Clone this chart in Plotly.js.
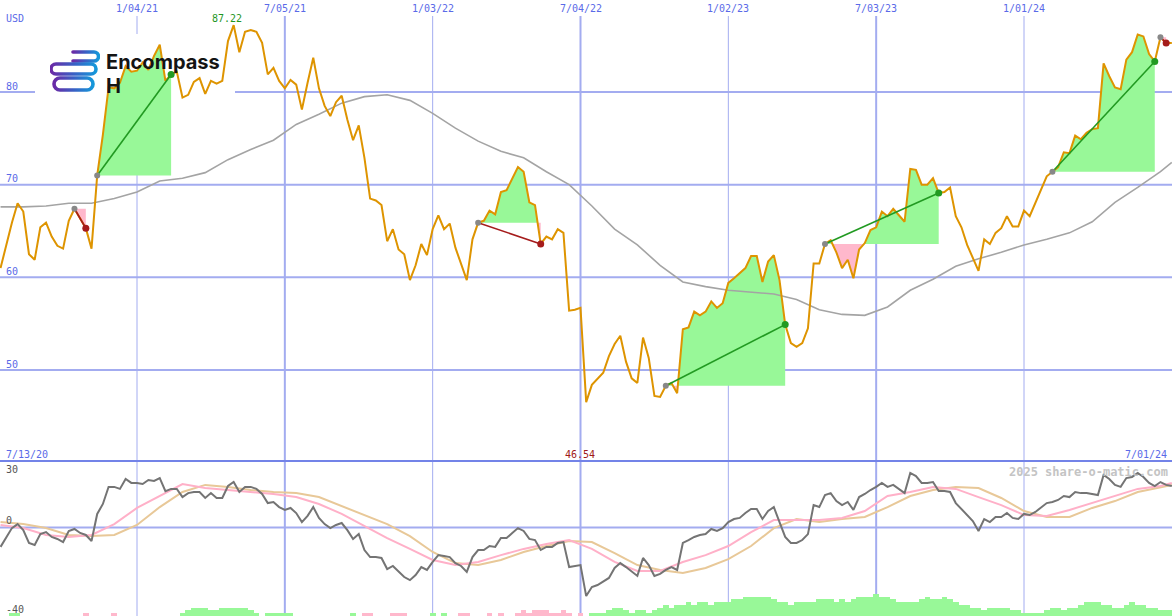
<!DOCTYPE html>
<html><head><meta charset="utf-8">
<script src="https://cdn.plot.ly/plotly-3.0.1.min.js"></script>
<style>html,body{margin:0;padding:0;background:#fff}#chart{width:1172px;height:616px}</style>
</head><body><div id="chart"></div>
<script>
// Weekly dates (Mondays)
const dates = [
'2020-07-20','2020-07-27','2020-08-03','2020-08-10','2020-08-17','2020-08-24','2020-08-31','2020-09-07','2020-09-14','2020-09-21','2020-09-28','2020-10-05','2020-10-12','2020-10-19','2020-10-26','2020-11-02','2020-11-09','2020-11-16','2020-11-23','2020-11-30','2020-12-07','2020-12-14','2020-12-21','2020-12-28',
'2021-01-04','2021-01-11','2021-01-18','2021-01-25','2021-02-01','2021-02-08','2021-02-15','2021-02-22','2021-03-01','2021-03-08','2021-03-15','2021-03-22','2021-03-29','2021-04-05','2021-04-12','2021-04-19','2021-04-26','2021-05-03','2021-05-10','2021-05-17','2021-05-24','2021-05-31','2021-06-07','2021-06-14','2021-06-21','2021-06-28','2021-07-05','2021-07-12','2021-07-19','2021-07-26','2021-08-02','2021-08-09','2021-08-16','2021-08-23','2021-08-30','2021-09-06','2021-09-13','2021-09-20','2021-09-27','2021-10-04','2021-10-11','2021-10-18','2021-10-25','2021-11-01','2021-11-08','2021-11-15','2021-11-22','2021-11-29','2021-12-06','2021-12-13','2021-12-20','2021-12-27',
'2022-01-03','2022-01-10','2022-01-17','2022-01-24','2022-01-31','2022-02-07','2022-02-14','2022-02-21','2022-02-28','2022-03-07','2022-03-14','2022-03-21','2022-03-28','2022-04-04','2022-04-11','2022-04-18','2022-04-25','2022-05-02','2022-05-09','2022-05-16','2022-05-23','2022-05-30','2022-06-06','2022-06-13','2022-06-20','2022-06-27','2022-07-04','2022-07-11','2022-07-18','2022-07-25','2022-08-01','2022-08-08','2022-08-15','2022-08-22','2022-08-29','2022-09-05','2022-09-12','2022-09-19','2022-09-26','2022-10-03','2022-10-10','2022-10-17','2022-10-24','2022-10-31','2022-11-07','2022-11-14','2022-11-21','2022-11-28','2022-12-05','2022-12-12','2022-12-19','2022-12-26',
'2023-01-02','2023-01-09','2023-01-16','2023-01-23','2023-01-30','2023-02-06','2023-02-13','2023-02-20','2023-02-27','2023-03-06','2023-03-13','2023-03-20','2023-03-27','2023-04-03','2023-04-10','2023-04-17','2023-04-24','2023-05-01','2023-05-08','2023-05-15','2023-05-22','2023-05-29','2023-06-05','2023-06-12','2023-06-19','2023-06-26','2023-07-03','2023-07-10','2023-07-17','2023-07-24','2023-07-31','2023-08-07','2023-08-14','2023-08-21','2023-08-28','2023-09-04','2023-09-11','2023-09-18','2023-09-25','2023-10-02','2023-10-09','2023-10-16','2023-10-23','2023-10-30','2023-11-06','2023-11-13','2023-11-20','2023-11-27','2023-12-04','2023-12-11','2023-12-18','2023-12-25',
'2024-01-01','2024-01-08','2024-01-15','2024-01-22','2024-01-29','2024-02-05','2024-02-12','2024-02-19','2024-02-26','2024-03-04','2024-03-11','2024-03-18','2024-03-25','2024-04-01','2024-04-08','2024-04-15','2024-04-22','2024-04-29','2024-05-06','2024-05-13','2024-05-20','2024-05-27','2024-06-03','2024-06-10','2024-06-17','2024-06-24','2024-07-01'
];

// Weekly close price (USD)
const price = [
61.0,63.5,65.9,68.0,67.1,62.5,61.9,65.4,65.9,64.4,
63.4,63.1,66.1,67.4,66.3,65.3,63.1,71.0,75.4,80.5,
80.4,81.0,82.8,82.2,82.3,83.2,82.4,83.9,85.1,81.2,
81.9,82.2,79.4,79.7,81.1,81.5,79.8,81.2,80.9,81.2,
85.5,87.22,84.3,86.5,86.7,86.5,85.3,81.9,82.6,81.2,
80.4,81.3,80.8,78.1,81.0,83.7,80.4,78.5,77.4,78.9,
79.6,77.0,74.8,76.4,72.9,68.5,68.3,67.8,63.9,65.2,
63.0,62.5,59.7,61.3,63.6,62.4,65.2,66.7,65.2,65.8,
63.2,61.4,59.7,64.1,65.9,66.1,67.2,66.8,69.2,69.4,
70.7,71.9,71.4,68.1,67.8,63.6,64.4,64.1,65.2,64.8,
56.4,56.5,56.7,46.54,48.4,49.0,49.7,51.5,52.8,53.7,
50.9,49.1,48.6,53.5,51.3,47.2,47.1,48.3,48.6,47.5,
54.4,54.6,56.3,55.9,56.3,57.4,56.7,57.2,59.4,59.9,
60.5,61.0,62.3,62.3,59.5,61.7,62.4,59.7,54.9,52.9,
52.5,52.9,54.5,61.5,61.5,63.6,64.0,62.7,61.0,61.9,
59.9,63.0,63.7,65.1,65.4,67.1,66.6,67.4,66.7,66.0,
71.7,71.6,70.0,70.0,70.7,69.1,69.2,69.7,66.6,65.4,
63.5,62.1,60.7,64.1,63.6,64.8,65.3,66.6,65.5,65.5,
67.2,66.6,68.0,69.4,70.9,71.4,71.9,73.5,73.4,75.3,
74.9,75.6,76.0,76.1,83.1,81.7,80.5,80.3,83.5,84.3,
86.2,86.0,84.1,83.3,85.9,85.3,85.3
];

// Oscillator (weekly)
const osc = [
-8.8,-4.3,-0.3,1.5,-1.2,-7.0,-7.9,-3.0,-2.1,-4.3,
-5.2,-6.6,-1.6,-0.7,-2.5,-3.4,-6.1,6.1,10.6,18.3,
18.3,17.4,21.9,20.1,20.1,19.6,21.4,21.0,22.3,16.4,
17.4,17.4,13.7,15.5,16.0,16.0,13.3,15.5,13.3,13.3,
18.7,20.5,16.0,18.3,18.3,17.4,15.1,11.0,11.5,9.2,
7.9,8.8,6.5,2.4,5.2,9.2,4.3,1.5,-0.3,1.1,
2.0,-1.2,-5.2,-3.0,-10.2,-13.4,-13.4,-13.8,-18.8,-17.4,
-20.1,-22.4,-23.8,-21.5,-17.9,-19.2,-15.6,-12.5,-12.9,-13.4,
-16.1,-17.4,-20.1,-13.4,-10.2,-10.2,-8.4,-8.8,-4.8,-4.8,
-2.5,-0.3,-1.6,-5.2,-5.7,-10.2,-8.8,-8.8,-7.0,-6.6,
-17.9,-17.4,-17.0,-31.0,-26.9,-26.0,-24.2,-22.8,-18.3,-16.1,
-17.9,-20.1,-21.9,-13.8,-17.0,-21.9,-21.0,-19.2,-17.9,-19.2,
-7.0,-5.7,-4.3,-3.4,-3.0,-0.7,-1.6,-0.3,2.4,3.8,
4.3,6.5,8.3,8.3,3.8,7.4,9.2,2.4,-4.3,-7.0,
-7.0,-5.7,-3.0,10.1,9.2,14.6,15.5,11.9,10.1,11.5,
7.9,13.7,15.1,16.9,18.3,20.1,18.3,19.2,17.4,15.5,
24.6,23.2,20.1,20.1,20.5,16.4,16.4,16.0,11.0,8.3,
5.6,2.9,-1.6,3.8,2.4,4.7,4.7,6.5,4.3,3.8,
6.1,5.6,7.0,8.8,11.0,11.5,12.4,14.2,13.7,16.0,
15.5,15.5,15.1,14.6,23.7,21.9,19.2,18.3,22.3,22.8,
24.6,22.8,20.1,18.7,20.5,19.2,18.7
];

// Volume-style histogram (signed strength: + green, - pink)
const hist = [
0,0,1,1,0,0,0,0,0,0,
0,0,0,0,0,-1,0,0,0,0,
-1,0,0,0,0,0,0,0,0,0,
0,0,1,2,3,3,3,2,2,3,
3,3,3,3,2,1,0,1,1,1,
1,1,0,0,0,0,0,0,0,0,
0,0,1,0,-1,-1,0,0,0,-1,
-1,-1,0,0,0,0,1,0,1,0,
0,-1,-1,0,0,0,-1,0,-1,0,
0,-1,-2,-1,-2,-2,-2,-1,-1,-2,
-1,0,-1,0,1,1,1,2,3,3,
2,1,2,2,1,2,3,4,3,4,
4,5,4,5,5,4,5,5,5,6,
6,7,7,7,7,7,6,5,5,4,
5,5,5,5,6,6,6,5,6,5,
6,7,7,7,8,7,7,6,5,5,
5,5,6,7,6,6,7,6,5,4,
4,3,3,2,3,3,3,3,2,2,
1,1,1,1,2,3,3,2,3,3,
4,5,5,5,4,4,3,3,4,5,
4,4,3,3,2,2,2
];

// Smooth series sampled every 4 weeks (plus final week)
const movingAvg = [67.6,67.6,67.7,68.0,68.0,68.5,69.2,70.4,70.7,71.3,72.7,73.8,74.8,76.5,77.6,78.8,79.5,79.7,79.1,77.7,76.1,74.7,73.6,72.9,71.4,70.0,67.7,65.2,63.5,61.3,59.5,59.0,58.6,58.4,58.2,57.6,56.5,56.0,55.9,56.8,58.6,59.8,61.2,62.0,62.7,63.5,64.1,64.8,66.0,68.1,69.7,71.4,72.4];
const signalFast = [1.1,-0.3,-3.4,-4.3,-3.4,1.5,8.8,14.2,19.6,17.8,16.9,16.0,15.1,13.7,10.6,6.1,0.6,-4.8,-9.7,-14.7,-17.0,-15.6,-12.5,-9.7,-7.5,-5.7,-9.7,-15.6,-19.7,-19.7,-15.6,-12.5,-8.4,-2.1,3.3,3.3,3.3,4.3,7.4,14.2,16.0,18.3,17.4,13.7,10.1,5.6,5.2,7.9,11.0,14.2,17.4,18.7,20.1];
const signalSlow = [2.4,1.5,-0.3,-3.4,-3.9,-3.4,1.1,9.2,16.0,19.2,18.3,16.9,16.0,15.5,13.7,9.7,5.6,1.5,-3.9,-11.1,-16.1,-17.0,-14.7,-11.1,-8.4,-6.1,-6.6,-11.6,-17.0,-19.2,-20.6,-18.3,-14.3,-8.4,-0.3,3.8,2.4,3.8,4.7,9.2,14.2,16.9,18.3,17.8,13.3,7.4,4.7,4.7,8.8,11.9,16.0,18.3,19.2];

// Trades: entry / exit week indices
const entryIdx = [13,17,84,117,145,185,204];
const exitIdx  = [15,30,95,138,165,203,205];

// Axis tick labels
const tickDates  = ['2021-01-04','2021-07-05','2022-01-03','2022-07-04','2023-01-02','2023-07-03','2024-01-01'];
const tickLabels = ['1/04/21','7/05/21','1/03/22','7/04/22','1/02/23','7/03/23','1/01/24'];
const priceTicks = [80,70,60,50];
const oscTicks = [30,0,-40];

// ---------- build ----------
const W = 1172, H = 616;
const split = 1 - 461/H;
const gridC = '#a3acf0', blue = '#5a6ae8';
const mono = 'DejaVu Sans Mono, monospace';
const ms = d => { const [y,m,dd] = d.split('-').map(Number); return Date.UTC(y,m-1,dd); };
const smoothDates = dates.filter((d,i)=> i%4===0 || i===dates.length-1);

const traces = [];
// histogram
traces.push({type:'bar', x:dates, y:hist.map(Math.abs), yaxis:'y3', width:7*86400000,
  marker:{color:hist.map(v=> v>0?'#98f898':(v<0?'#ffb8cc':'rgba(0,0,0,0)')), line:{width:0}},
  hoverinfo:'skip', showlegend:false});

// trade fills
entryIdx.forEach((e,t)=>{
  const x = exitIdx[t], L = price[e];
  const xs=[], hi=[], lo=[];
  for(let i=e;i<=x;i++){
    xs.push(ms(dates[i])); hi.push(Math.max(price[i],L)); lo.push(Math.min(price[i],L));
    if(i<x){
      const p1=price[i], p2=price[i+1];
      if((p1-L)*(p2-L)<0){
        const f=(L-p1)/(p2-p1);
        xs.push(ms(dates[i])+f*(ms(dates[i+1])-ms(dates[i]))); hi.push(L); lo.push(L);
      }
    }
  }
  const base = xs.map(()=>L);
  const common = {mode:'lines', line:{width:0}, hoverinfo:'skip', showlegend:false, xaxis:'x', yaxis:'y'};
  traces.push(Object.assign({x:xs, y:base}, common));
  traces.push(Object.assign({x:xs, y:hi, fill:'tonexty', fillcolor:'#98f898'}, common));
  traces.push(Object.assign({x:xs, y:base}, common));
  traces.push(Object.assign({x:xs, y:lo, fill:'tonexty', fillcolor:'#ffb8cc'}, common));
});

// moving average
traces.push({x:smoothDates, y:movingAvg, mode:'lines', line:{color:'#a4a4a4', width:1.6}, hoverinfo:'skip', showlegend:false});
// price
traces.push({x:dates, y:price, mode:'lines', line:{color:'#de9400', width:2}, hoverinfo:'skip', showlegend:false});

// trade lines + markers
entryIdx.forEach((e,t)=>{
  const x = exitIdx[t], win = price[x] > price[e];
  const col = win ? '#229a22' : '#a51c1c';
  traces.push({x:[dates[e],dates[x]], y:[price[e],price[x]], mode:'lines', line:{color:col, width:1.6}, hoverinfo:'skip', showlegend:false});
  traces.push({x:[dates[e]], y:[price[e]], mode:'markers', marker:{color:'#888888', size:6}, hoverinfo:'skip', showlegend:false});
  traces.push({x:[dates[x]], y:[price[x]], mode:'markers', marker:{color:col, size:7}, hoverinfo:'skip', showlegend:false});
});

// oscillator panel
traces.push({x:smoothDates, y:signalSlow, yaxis:'y2', mode:'lines', line:{color:'#e8c898', width:2}, hoverinfo:'skip', showlegend:false});
traces.push({x:smoothDates, y:signalFast, yaxis:'y2', mode:'lines', line:{color:'#ffb0c8', width:2}, hoverinfo:'skip', showlegend:false});
traces.push({x:dates, y:osc, yaxis:'y2', mode:'lines', line:{color:'#747474', width:2}, hoverinfo:'skip', showlegend:false});

// shapes
const shapes = [];
priceTicks.forEach(v=> shapes.push({type:'line', layer:'below', xref:'paper', x0:0, x1:1, yref:'y', y0:v, y1:v, line:{color:gridC, width:2}}));
shapes.push({type:'line', layer:'below', xref:'paper', x0:0, x1:1, yref:'y2', y0:0, y1:0, line:{color:gridC, width:2}});
tickDates.forEach(d=> shapes.push({type:'line', layer:'below', xref:'x', x0:d, x1:d, yref:'paper', y0:0, y1:1-16/H,
  line:{color:gridC, width: d.slice(5,7)==='07' ? 2 : 1}}));
shapes.push({type:'line', layer:'below', xref:'paper', x0:0, x1:1, yref:'paper', y0:split, y1:split, line:{color:'#7383e8', width:2}});
shapes.push({type:'rect', layer:'below', xref:'paper', yref:'paper', x0:35/W, x1:235/W, y0:1-100/H, y1:1-34/H, fillcolor:'#ffffff', line:{width:0}});

// annotations
const ann = [];
tickDates.forEach((d,i)=> ann.push({x:d, xref:'x', y:1, yref:'paper', yanchor:'top', xanchor:'center', yshift:-1, showarrow:false,
  text:tickLabels[i], font:{family:mono, size:10, color:blue}}));
ann.push({x:4/W, xref:'paper', y:1-18/H, yref:'paper', xanchor:'left', yanchor:'middle', showarrow:false, text:'USD', font:{family:mono,size:10,color:blue}});
priceTicks.forEach(v=> ann.push({x:4/W, xref:'paper', y:v, yref:'y', xanchor:'left', yanchor:'bottom', yshift:-1.5, showarrow:false, text:String(v), font:{family:mono,size:10,color:blue}}));
ann.push({x:4/W, xref:'paper', y:oscTicks[0], yref:'y2', xanchor:'left', yanchor:'top', yshift:-1, showarrow:false, text:String(oscTicks[0]), font:{family:mono,size:10,color:'#555'}});
ann.push({x:4/W, xref:'paper', y:oscTicks[1], yref:'y2', xanchor:'left', yanchor:'bottom', yshift:-1, showarrow:false, text:String(oscTicks[1]), font:{family:mono,size:10,color:'#555'}});
ann.push({x:4/W, xref:'paper', y:oscTicks[2], yref:'y2', xanchor:'left', yanchor:'bottom', yshift:-1, showarrow:false, text:String(oscTicks[2]), font:{family:mono,size:10,color:'#555'}});
ann.push({x:4/W, xref:'paper', y:split, yref:'paper', xanchor:'left', yanchor:'bottom', yshift:-1, showarrow:false, text:dates.length? '7/13/20':'', font:{family:mono,size:10,color:blue}});
ann.push({x:1169/W, xref:'paper', y:split, yref:'paper', xanchor:'right', yanchor:'bottom', yshift:-1, showarrow:false, text:'7/01/24', font:{family:mono,size:10,color:blue}});
let iMax=0,iMin=0; price.forEach((v,i)=>{ if(v>price[iMax]) iMax=i; if(v<price[iMin]) iMin=i; });
ann.push({x:dates[iMax], xref:'x', y:price[iMax], yref:'y', xanchor:'center', yanchor:'bottom', xshift:-7, yshift:-1, showarrow:false, text:price[iMax].toFixed(2), font:{family:mono,size:10,color:'#1f961f'}});
ann.push({x:dates[iMin], xref:'x', y:split, yref:'paper', xanchor:'center', yanchor:'bottom', xshift:-6, yshift:-1, showarrow:false, text:price[iMin].toFixed(2), font:{family:mono,size:10,color:'#a01818'}});
ann.push({x:1170/W, xref:'paper', y:1-472/H, yref:'paper', xanchor:'right', yanchor:'middle', showarrow:false, text:'<b>2025 share-o-matic.com</b>', font:{family:mono,size:12,color:'#c4c4c4'}});
ann.push({x:104/W, xref:'paper', y:1-62/H, yref:'paper', xanchor:'left', yanchor:'middle', showarrow:false, text:'<b>Encompass</b>', font:{family:'Inter, Open Sans, sans-serif',size:20,color:'#141414'}});
ann.push({x:104/W, xref:'paper', y:1-86/H, yref:'paper', xanchor:'left', yanchor:'middle', showarrow:false, text:'<b>H</b>', font:{family:'Inter, Open Sans, sans-serif',size:20,color:'#141414'}});

// logo icon (graphic only)
const svg = "<svg xmlns='http://www.w3.org/2000/svg' width='50' height='46' viewBox='0 0 50 46'><defs><linearGradient id='g' x1='0' y1='0' x2='1' y2='0'><stop offset='0' stop-color='#6a2aa6'/><stop offset='0.5' stop-color='#3a5fc4'/><stop offset='1' stop-color='#1598da'/></linearGradient></defs><g fill='none' stroke='url(#g)' stroke-width='3.6' stroke-linecap='round' stroke-linejoin='round'><path d='M23 3 V43'/><path d='M23 3 H44 a4.5 4.5 0 0 1 0 9 H23'/><path d='M23 15 H41 a5 5 0 0 1 0 10 H6 a5 5 0 0 1 0 -10 H23'/><path d='M23 29 H37 a6 6 0 0 1 0 12 H10 a6 6 0 0 1 0 -12 H23'/></g></svg>";
const images = [{source:'data:image/svg+xml;charset=utf-8,'+encodeURIComponent(svg), xref:'paper', yref:'paper',
  x:50/W, y:1-49/H, sizex:50/W, sizey:46/H, xanchor:'left', yanchor:'top', sizing:'stretch', layer:'above'}];

const layout = {
  width:W, height:H, margin:{l:0,r:0,t:0,b:0,pad:0},
  paper_bgcolor:'#ffffff', plot_bgcolor:'#ffffff', showlegend:false, hovermode:false, bargap:0,
  xaxis:{type:'date', range:['2020-07-19 08:00','2024-07-01 05:00'], showgrid:false, zeroline:false, showticklabels:false, ticks:'', showline:false, anchor:'y2'},
  yaxis:{domain:[split,1], range:[40.18,89.93], showgrid:false, zeroline:false, showticklabels:false, ticks:'', showline:false},
  yaxis2:{domain:[0,split], range:[-40,30], showgrid:false, zeroline:false, showticklabels:false, ticks:'', showline:false},
  yaxis3:{domain:[0,split], overlaying:'y2', range:[0,56], visible:false},
  shapes:shapes, annotations:ann, images:images
};
Plotly.newPlot('chart', traces, layout, {displayModeBar:false, staticPlot:true});
</script>
</body></html>
